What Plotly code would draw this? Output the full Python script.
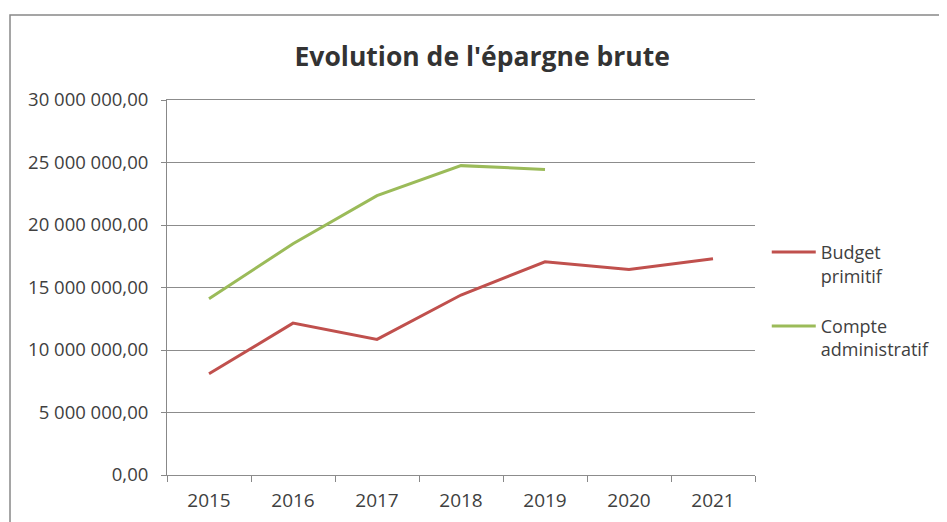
import plotly.graph_objects as go

years = ["2015", "2016", "2017", "2018", "2019", "2020", "2021"]
budget_primitif = [8100000, 12150000, 10850000, 14400000, 17050000, 16450000, 17300000]
compte_admin = [14100000, 18500000, 22350000, 24750000, 24450000, None, None]
y_ticks = [0, 5000000, 10000000, 15000000, 20000000, 25000000, 30000000]

RED = "#c0504d"
GREEN = "#9bbb59"
FONT = "Open Sans, Noto Sans, sans-serif"

fig = go.Figure()
fig.add_trace(go.Scatter(x=years, y=budget_primitif, mode="lines", legendgroup="bp",
                         name="Budget<br>primitif", line=dict(color=RED, width=3)))
fig.add_trace(go.Scatter(x=years, y=compte_admin, mode="lines", legendgroup="ca",
                         name="Compte<br>administratif", line=dict(color=GREEN, width=3)))

fig.update_layout(
    width=939, height=514,
    margin=dict(l=159, r=192, t=92, b=47),
    paper_bgcolor="white", plot_bgcolor="white",
    separators=", ",
    font=dict(family=FONT, color="#404040", size=18),
    title=dict(text="<b>Evolution de l'épargne brute</b>", x=0.505, xanchor="center",
               y=1 - 49 / 514, yanchor="middle", font=dict(size=26.5, color="#333333", family=FONT)),
    legend=dict(x=1.02, y=0.643, xanchor="left", yanchor="top", valign="top",
                font=dict(size=18, color="#404040"), tracegroupgap=24, itemwidth=44,
                bgcolor="rgba(0,0,0,0)"),
    showlegend=True,
    xaxis=dict(type="category", range=[-0.5, 6.5], tickson="boundaries",
               ticks="outside", ticklen=6, tickcolor="#888888",
               showline=True, linecolor="#8c8c8c", linewidth=1, mirror=True,
               showgrid=False, tickfont=dict(size=19), ticklabelstandoff=8,
               automargin=False),
    yaxis=dict(range=[0, 30000000], tickvals=y_ticks, tickformat=",.2f",
               ticks="outside", ticklen=5, tickcolor="#888888",
               showline=True, linecolor="#888888", linewidth=1,
               showgrid=True, gridcolor="#8c8c8c", gridwidth=1,
               zeroline=False, tickfont=dict(size=18.5), ticklabelstandoff=9,
               automargin=False),
    shapes=[dict(type="rect", xref="paper", yref="paper",
                 x0=-0.267, x1=1.4, y0=-0.3, y1=1.2267,
                 line=dict(color="#888888", width=1.5), fillcolor="rgba(0,0,0,0)",
                 layer="below")],
)

fig.write_html("out.html")
